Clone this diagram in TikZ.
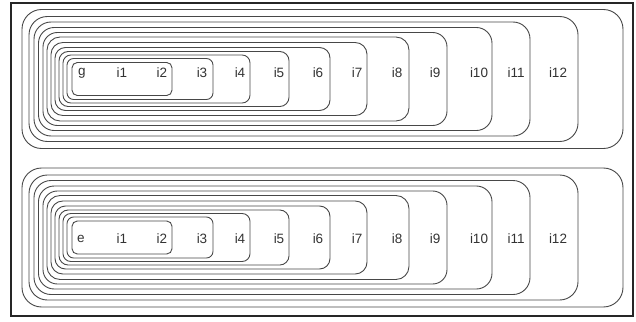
\documentclass[tikz,border=0pt]{standalone}
\usepackage{fontspec}
\setmainfont{Liberation Sans}
\begin{document}
\begin{tikzpicture}[x=1pt,y=-1pt,
  box/.style={draw=black!72, line width=0.9pt, inner sep=0pt, outer sep=0pt, rectangle},
  lbl/.style={inner sep=0pt, text=black!80, font=\fontsize{13.5}{15}\selectfont},
  frm/.style={draw=black!85, line width=1.3pt, inner sep=0pt, outer sep=0pt, rectangle}]
\useasboundingbox (0,0) rectangle (636,321);
\node[frm, minimum width=622pt, minimum height=313pt] (frame) at (322,159.5) {};
\foreach \k/\l/\r/\h in {1/72/172/16.5, 2/67/213/20.5, 3/63/250/24, 4/59/289/27.5,
  5/55/330/31.5, 6/51/367/36.5, 7/47/409/42, 8/43/447/46.5, 9/38.5/492/51.5,
  10/34/530/57, 11/29/578/62.5, 12/22/623/69.5}{
  \pgfmathsetmacro{\w}{\r-\l}
  \pgfmathsetmacro{\hh}{2*\h}
  \pgfmathsetmacro{\cx}{(\l+\r)/2}
  \pgfmathsetmacro{\rad}{4+1.3*\k}
  \node[box, minimum width=\w pt, minimum height=\hh pt, rounded corners=\rad pt] (t\k) at (\cx,79) {};
  \node[box, minimum width=\w pt, minimum height=\hh pt, rounded corners=\rad pt] (b\k) at (\cx,237.5) {};
}
\foreach \n/\t/\x in {g/g/82, t1/i1/122, t2/i2/162, t3/i3/202, t4/i4/240, t5/i5/279,
  t6/i6/318, t7/i7/357, t8/i8/397, t9/i9/435, t10/i10/479, t11/i11/516, t12/i12/558}{
  \node[lbl] (l\n) at (\x,73) {\t};
}
\foreach \n/\t/\x in {e/e/81, b1/i1/122, b2/i2/162, b3/i3/202, b4/i4/240, b5/i5/279,
  b6/i6/318, b7/i7/357, b8/i8/397, b9/i9/435, b10/i10/479, b11/i11/516, b12/i12/558}{
  \node[lbl] (m\n) at (\x,239) {\t};
}
\end{tikzpicture}
\end{document}
